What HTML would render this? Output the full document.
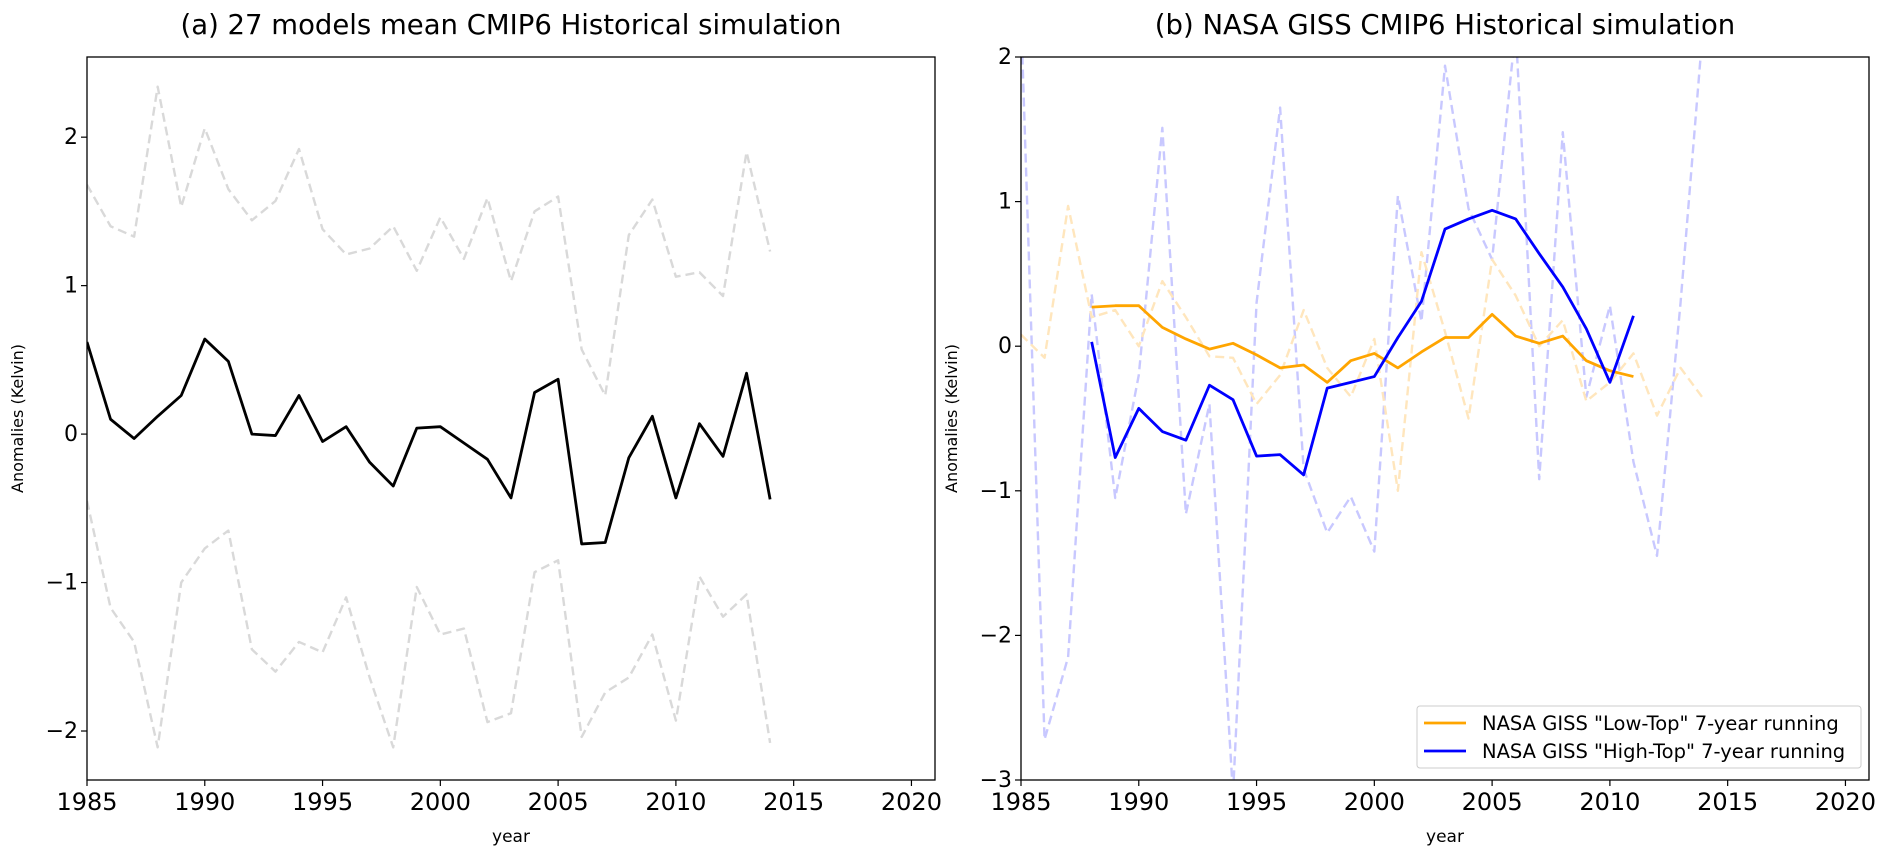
<!DOCTYPE html>
<html><head><meta charset="utf-8"><style>
body{margin:0;background:#fff;}
svg{display:block;font-family:"DejaVu Sans","Liberation Sans",sans-serif;}
</style></head><body>
<svg id="chart" width="1892" height="866" viewBox="0 0 1892 866" xmlns="http://www.w3.org/2000/svg">
<defs>
<clipPath id="clipL"><rect x="87" y="57" width="848" height="723"/></clipPath>
<clipPath id="clipR"><rect x="1021" y="57" width="848" height="723"/></clipPath>
</defs>
<g id="panelA"></g>
<g id="panelB"></g>
</svg>
<script>
const years = [1985,1986,1987,1988,1989,1990,1991,1992,1993,1994,1995,1996,1997,1998,1999,2000,2001,2002,2003,2004,2005,2006,2007,2008,2009,2010,2011,2012,2013,2014];
const meanA = [0.62,0.10,-0.03,0.12,0.26,0.64,0.49,0.0,-0.01,0.26,-0.05,0.05,-0.19,-0.35,0.04,0.05,-0.06,-0.17,-0.43,0.28,0.37,-0.74,-0.73,-0.16,0.12,-0.43,0.07,-0.15,0.41,-0.44];
const upperA = [1.68,1.40,1.33,2.34,1.53,2.06,1.65,1.44,1.57,1.92,1.38,1.21,1.25,1.40,1.10,1.46,1.18,1.59,1.03,1.50,1.60,0.57,0.26,1.34,1.58,1.06,1.09,0.93,1.90,1.23];
const lowerA = [-0.45,-1.17,-1.40,-2.11,-1.00,-0.77,-0.65,-1.45,-1.60,-1.40,-1.47,-1.10,-1.64,-2.11,-1.03,-1.35,-1.31,-1.94,-1.88,-0.93,-0.85,-2.04,-1.74,-1.64,-1.35,-1.93,-0.96,-1.23,-1.08,-2.08];
const runYears = [1988,1989,1990,1991,1992,1993,1994,1995,1996,1997,1998,1999,2000,2001,2002,2003,2004,2005,2006,2007,2008,2009,2010,2011];
const lowTopRun = [0.27,0.28,0.28,0.13,0.05,-0.02,0.02,-0.06,-0.15,-0.13,-0.25,-0.10,-0.05,-0.15,-0.04,0.06,0.06,0.22,0.07,0.02,0.07,-0.10,-0.17,-0.21];
const highTopRun = [0.03,-0.77,-0.43,-0.59,-0.65,-0.27,-0.37,-0.76,-0.75,-0.89,-0.29,-0.25,-0.21,0.06,0.31,0.81,0.88,0.94,0.88,0.64,0.41,0.12,-0.25,0.21];
const highTopAnnual = [2.3,-2.72,-2.15,0.36,-1.05,-0.2,1.51,-1.16,-0.40,-3.1,0.3,1.65,-0.85,-1.29,-1.04,-1.42,1.04,0.17,1.94,0.95,0.60,2.2,-0.92,1.48,-0.35,0.28,-0.8,-1.45,0.3,2.3];
const lowTopAnnual = [0.08,-0.08,0.97,0.20,0.25,0.0,0.45,0.20,-0.07,-0.08,-0.40,-0.20,0.25,-0.15,-0.35,0.05,-1.0,0.65,0.10,-0.50,0.60,0.35,0.0,0.18,-0.38,-0.25,-0.05,-0.48,-0.15,-0.37];
const xTicks = [1985,1990,1995,2000,2005,2010,2015,2020];
const yTicksA = [-2,-1,0,1,2];
const yTicksB = [-3,-2,-1,0,1,2];

const NS="http://www.w3.org/2000/svg";
function mk(parent,tag,attrs,text){const e=document.createElementNS(NS,tag);for(const k in attrs)e.setAttribute(k,attrs[k]);if(text!==undefined)e.textContent=text;parent.appendChild(e);return e;}
function fmt(v){return v<0?'\u2212'+Math.abs(v):String(v);}

function panel(g,left,right,top,bottom,ymin,ymax,yTicks,title,clip){
  const sx=v=>left+(v-1985)/(2021-1985)*(right-left);
  const sy=v=>bottom-(v-ymin)/(ymax-ymin)*(bottom-top);
  const t=mk(g,'text',{x:(left+right)/2,y:34,'text-anchor':'middle','font-size':27.5,fill:'#000'},title);
  
  
  xTicks.forEach(v=>{
    mk(g,'line',{x1:sx(v),x2:sx(v),y1:bottom,y2:bottom+6,stroke:'#000','stroke-width':1.2});
    const l=mk(g,'text',{x:sx(v),y:bottom+30,'text-anchor':'middle','font-size':24},String(v));
    
    
  });
  yTicks.forEach(v=>{
    mk(g,'line',{x1:left-6,x2:left,y1:sy(v),y2:sy(v),stroke:'#000','stroke-width':1.2});
    const l=mk(g,'text',{x:left-9,y:sy(v)+7,'text-anchor':'end','font-size':22},fmt(v));
    
    
  });
  const xl=mk(g,'text',{x:(left+right)/2,y:842,'text-anchor':'middle','font-size':17},'year');
  
  
  const yl=mk(g,'text',{x:0,y:0,'text-anchor':'middle','font-size':16,transform:`translate(${left-64},${(top+bottom)/2}) rotate(-90)`},'Anomalies (Kelvin)');
  
  
  const plot=mk(g,'g',{'clip-path':`url(#${clip})`});
  const line=(xs,ys,color,w,dash,name,op)=>{
    const p=mk(plot,'polyline',{points:xs.map((x,i)=>sx(x)+','+sy(ys[i])).join(' '),fill:'none',stroke:color,'stroke-width':w,'stroke-linejoin':'round','stroke-dasharray':dash||'none','stroke-opacity':op||1});
    
    
  };
  const frame=mk(g,'rect',{x:left,y:top,width:right-left,height:bottom-top,fill:'none',stroke:'#000','stroke-width':1.3});
  
  
  return line;
}
const gA=document.getElementById('panelA');
const lineA=panel(gA,87,935,57,780,-2.33,2.54,yTicksA,'(a) 27 models mean CMIP6 Historical simulation','clipL');
lineA(years,upperA,'#d9d9d9',2.4,'9,5','upper-bound-line');
lineA(years,lowerA,'#d9d9d9',2.4,'9,5','lower-bound-line');
lineA(years,meanA,'#000',2.8,null,'mean-line');

const gB=document.getElementById('panelB');
const lineB=panel(gB,1021,1869,57,780,-3,2,yTicksB,'(b) NASA GISS CMIP6 Historical simulation','clipR');
lineB(years,highTopAnnual,'#c8c8ff',2.4,'9,5','high-top-annual-line');
lineB(years,lowTopAnnual,'#ffe6bd',2.4,'9,5','low-top-annual-line');
lineB(runYears,lowTopRun,'#ffa500',2.8,null,'low-top-running-line');
lineB(runYears,highTopRun,'#0000ff',2.8,null,'high-top-running-line');
</script>
<svg style="position:absolute;left:0;top:0" width="1892" height="866">
<g font-family="DejaVu Sans, Liberation Sans, sans-serif" font-size="19.5">
<rect x="1417" y="706" width="444" height="62" rx="3" fill="#fff" fill-opacity="0.85" stroke="#ccc" stroke-width="1"/>
<g><line x1="1424" x2="1466" y1="723" y2="723" stroke="#ffa500" stroke-width="2.8"/><text x="1482" y="730">NASA GISS "Low-Top" 7-year running</text></g>
<g><line x1="1424" x2="1466" y1="751" y2="751" stroke="#0000ff" stroke-width="2.8"/><text x="1482" y="758">NASA GISS "High-Top" 7-year running</text></g>
</g>
</svg>
</body></html>
